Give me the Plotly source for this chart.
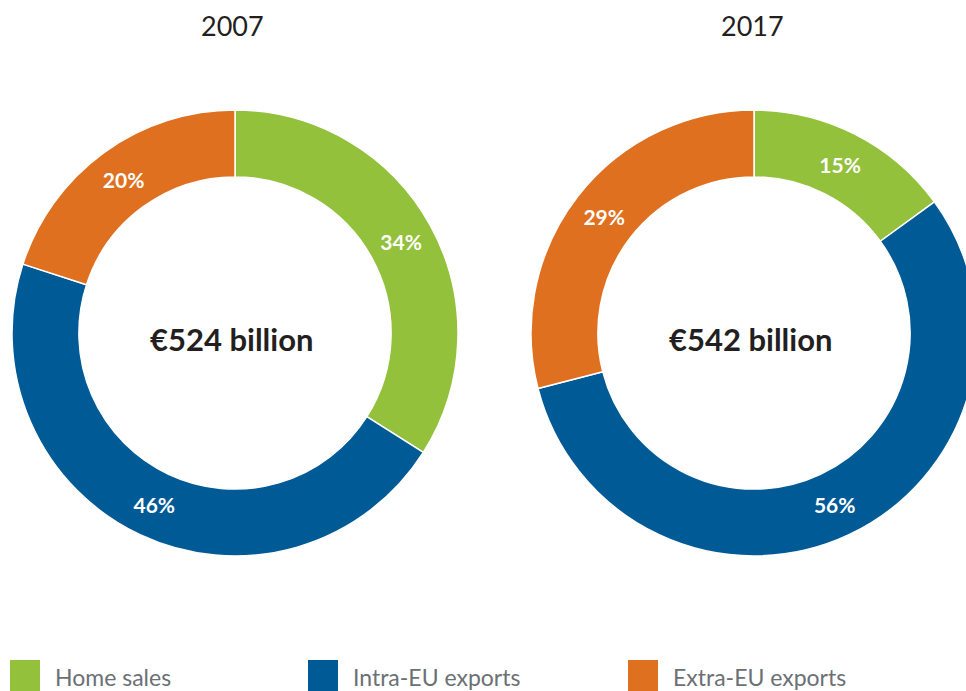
import plotly.graph_objects as go

categories = ["Home sales", "Intra-EU exports", "Extra-EU exports"]
years = ["2007", "2017"]
values_2007 = [34, 46, 20]
values_2017 = [15, 56, 29]
totals = ["€524 billion", "€542 billion"]
colors = ["#93c13c", "#005a96", "#df7020"]

W, H = 980, 691
FONT = "Lato, 'Open Sans', sans-serif"

def px(x):
    return x / W

def py(y):
    return (H - y) / H

def dom(cx, cy, r):
    return dict(x=[px(cx - r), px(cx + r)], y=[py(cy + r), py(cy - r)])

fig = go.Figure()
annotations = []
for vals, total, (cx, cy) in zip([values_2007, values_2017], totals, [(235, 333), (754, 333)]):
    fig.add_trace(go.Pie(
        labels=categories, values=vals, sort=False, direction="clockwise", rotation=0,
        hole=0.70, domain=dom(cx, cy, 223),
        marker=dict(colors=colors, line=dict(color="white", width=1.5)),
        texttemplate="%{value}%", textposition="inside", insidetextorientation="horizontal",
        textfont=dict(color="white", size=21, family=FONT, weight="bold"),
        showlegend=False, hoverinfo="label+percent",
    ))
    annotations.append(dict(text=total, x=px(cx - 3), y=py(339), xref="paper", yref="paper",
                            showarrow=False, xanchor="center", yanchor="middle",
                            font=dict(size=31, color="#231f20", family=FONT, weight="bold")))

for yr, cx in zip(years, [232, 752]):
    annotations.append(dict(text=yr, x=px(cx), y=py(25), xref="paper", yref="paper",
                            showarrow=False, xanchor="center", yanchor="middle",
                            font=dict(size=27, color="#231f20", family=FONT)))

shapes = []
for cat, col, x0 in zip(categories, colors, [10, 308, 628]):
    shapes.append(dict(type="rect", xref="paper", yref="paper",
                       x0=px(x0), x1=px(x0 + 30), y0=py(692), y1=py(660),
                       fillcolor=col, line=dict(width=0)))
    annotations.append(dict(text=cat, x=px(x0 + 43), y=py(677), xref="paper", yref="paper",
                            showarrow=False, xanchor="left", yanchor="middle",
                            font=dict(size=23, color="#6b7075", family=FONT)))

fig.update_layout(width=W, height=H, margin=dict(l=0, r=0, t=0, b=0),
                  paper_bgcolor="white", plot_bgcolor="white",
                  annotations=annotations, shapes=shapes)
fig.write_html("out.html", config={"displayModeBar": False},
               post_script="document.body.style.margin='0';document.body.style.overflow='hidden';")
